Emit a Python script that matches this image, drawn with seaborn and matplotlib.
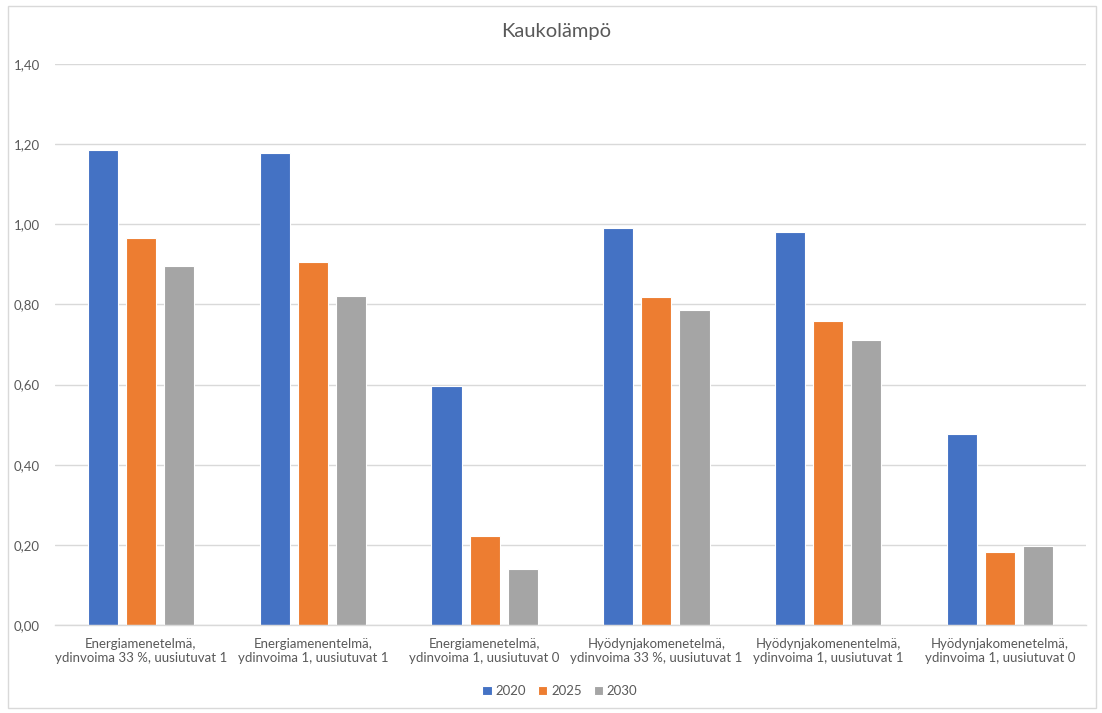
import matplotlib
matplotlib.use("Agg")
import matplotlib.pyplot as plt
import seaborn as sns
import pandas as pd
from matplotlib.patches import Rectangle
from matplotlib.ticker import FuncFormatter

categories = [
    "Energiamenetelmä,\nydinvoima 33 %, uusiutuvat 1",
    "Energiamenentelmä,\nydinvoima 1, uusiutuvat 1",
    "Energiamenetelmä,\nydinvoima 1, uusiutuvat 0",
    "Hyödynjakomenetelmä,\nydinvoima 33 %, uusiutuvat 1",
    "Hyödynjakomenentelmä,\nydinvoima 1, uusiutuvat 1",
    "Hyödynjakomenetelmä,\nydinvoima 1, uusiutuvat 0",
]
years = ["2020", "2025", "2030"]
values_2020 = [1.185, 1.177, 0.596, 0.990, 0.980, 0.476]
values_2025 = [0.965, 0.905, 0.222, 0.818, 0.758, 0.181]
values_2030 = [0.895, 0.821, 0.139, 0.786, 0.711, 0.198]
colors = ["#4472C4", "#ED7D31", "#A5A5A5"]

rows = []
for yr, vals in zip(years, [values_2020, values_2025, values_2030]):
    for c, v in zip(categories, vals):
        rows.append({"cat": c, "year": yr, "value": v})
df = pd.DataFrame(rows)

sns.set_theme(style="white")
plt.rcParams["font.family"] = ["Lato", "DejaVu Sans"]
text_color = "#595959"

fig = plt.figure(figsize=(11.02, 7.13), dpi=100)
ax = fig.add_axes([55/1102, 1-625/713, (1086-55)/1102, (625-64)/713])

sns.barplot(data=df, x="cat", y="value", hue="year", order=categories,
            hue_order=years, palette=colors, width=0.665, gap=0.21,
            saturation=1, ax=ax, legend=True, linewidth=0.8, edgecolor="white")

ax.set_ylim(0, 1.4)
ax.set_xlim(-0.5, len(categories) - 0.5)
ax.set_yticks([0, 0.2, 0.4, 0.6, 0.8, 1.0, 1.2, 1.4])
ax.yaxis.set_major_formatter(FuncFormatter(lambda v, p: f"{v:.2f}".replace(".", ",")))
ax.grid(axis="y", color="#D9D9D9", linewidth=1)
ax.set_axisbelow(True)
for s in ["top", "right", "left"]:
    ax.spines[s].set_visible(False)
ax.spines["bottom"].set_color("#D9D9D9")
ax.spines["bottom"].set_linewidth(1)
ax.tick_params(axis="both", length=0, colors=text_color, labelsize=9.5)
ax.tick_params(axis="y", pad=11)
ax.tick_params(axis="x", pad=9)
ax.set_xlabel("")
ax.set_ylabel("")
for lbl in ax.get_xticklabels():
    lbl.set_color(text_color)

fig.text(556/1102, 1-32/713, "Kaukolämpö", fontsize=14.5, color=text_color,
         ha="center", va="center")

leg = ax.legend(loc="center", bbox_to_anchor=(505/1031, -66/561), ncol=3,
                frameon=False, fontsize=9.5, handlelength=0.7, handleheight=0.7,
                handletextpad=0.3, columnspacing=0.9)
for t in leg.get_texts():
    t.set_color(text_color)

fig.patches.append(Rectangle((8/1102, 1-708/713), (1096-8)/1102, (708-6)/713,
                             transform=fig.transFigure, fill=False,
                             edgecolor="#D9D9D9", linewidth=1))

fig.savefig("out.png", dpi=100)
